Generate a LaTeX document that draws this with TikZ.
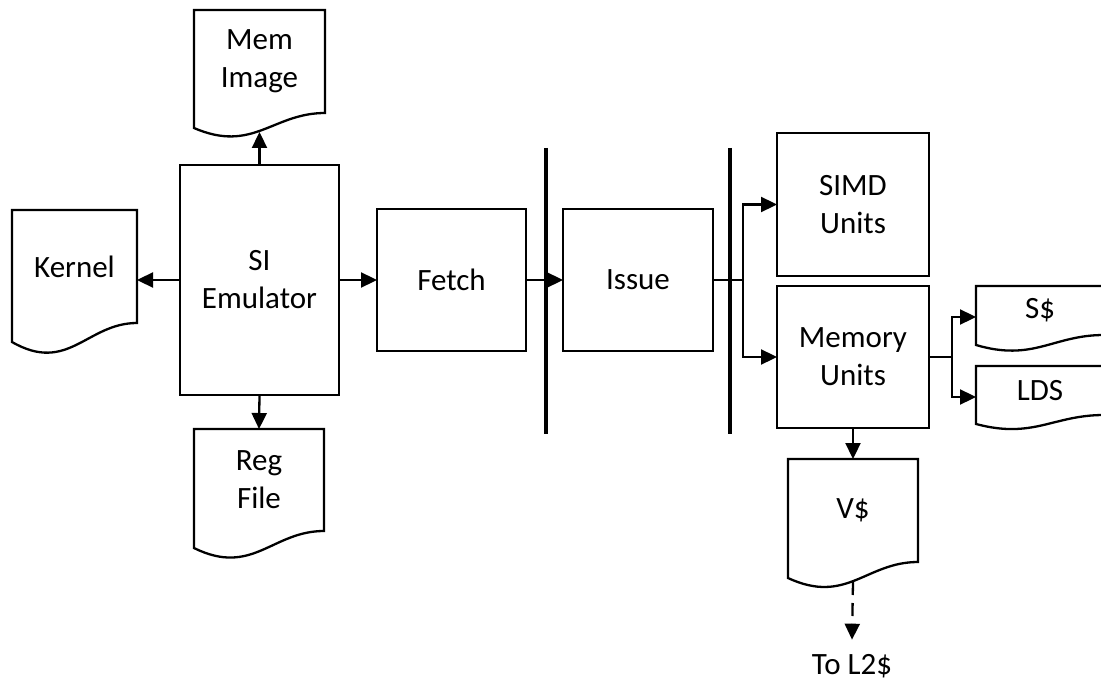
\documentclass[tikz,border=0pt]{standalone}
\usepackage{fontspec}
\setmainfont{Carlito}
\usetikzlibrary{arrows.meta,calc}
\tikzset{
  boxline/.style={line width=2.3pt, line join=miter},
  blk/.style={draw, boxline, rectangle, inner sep=0pt, outer sep=0pt, align=center,
    font=\fontsize{31pt}{38pt}\selectfont},
  docnode/.style={rectangle, inner sep=0pt, outer sep=0pt, align=center,
    font=\fontsize{31pt}{38pt}\selectfont},
  tip/.style={-{Triangle[length=16pt,width=15pt]}},
  arr/.style={line width=2.3pt, tip},
  plain/.style={line width=2.3pt},
  bar/.style={line width=4.5pt},
  lbl/.style={inner sep=0pt, font=\fontsize{31pt}{38pt}\selectfont}
}
\newcommand\docshape[2]{%
  \draw[boxline] let \p1=(#1.north west), \p2=(#1.south east), \n1={\x2-\x1} in
    (\x1,\y2-#2) -- (\x1,\y1) -- (\x2,\y1) -- (\x2,\y2)
    .. controls (\x1+0.6*\n1,\y2) and (\x1+0.45*\n1,\y2-2.7*#2) .. (\x1,\y2-#2) -- cycle;}
\begin{document}
\begin{tikzpicture}[x=1pt,y=-1pt]
\useasboundingbox (0,0) rectangle (1101,682);
\clip (0,0) rectangle (1101,682);
% blocks
\node[blk, minimum width=159pt, minimum height=230pt] (emu) at (259.5,280) {SI\\Emulator};
\node[blk, minimum width=149pt, minimum height=142pt] (fetch) at (451.5,280) {Fetch};
\node[blk, minimum width=150pt, minimum height=142pt] (issue) at (638,280) {Issue};
\node[blk, minimum width=152pt, minimum height=143pt] (simd) at (853,204.5) {SIMD\\Units};
\node[blk, minimum width=152pt, minimum height=142pt] (memu) at (853,357) {Memory\\Units};
% documents
\node[docnode, minimum width=131pt, minimum height=103pt] (mem) at (259.5,61.5) {Mem\\Image};
\docshape{mem}{15pt}
\node[docnode, minimum width=125pt, minimum height=113pt] (kernel) at (74.5,266.5) {Kernel};
\docshape{kernel}{19pt}
\node[docnode, minimum width=130pt, minimum height=102pt] (reg) at (259,480) {Reg\\File};
\docshape{reg}{17pt}
\node[docnode, minimum width=128pt, minimum height=49pt] (ss) at (1040,310.5) {S\$};
\docshape{ss}{10pt}
\node[docnode, minimum width=128pt, minimum height=49pt] (lds) at (1040,390.5) {LDS};
\docshape{lds}{9pt}
\node[docnode, minimum width=130pt, minimum height=103pt] (vs) at (853,510.5) {V\$};
\docshape{vs}{16pt}
\node[lbl, anchor=base] (tol2) at (852,674) {To L2\$};
% pipeline bars
\coordinate (b1t) at (546,148);
\coordinate (b1b) at (546,434);
\coordinate (b2t) at (730,148);
\coordinate (b2b) at (730,434);
\draw[bar] (b1t) -- (b1b);
\draw[bar] (b2t) -- (b2b);
% connectors
\draw[arr] (emu.north) -- (emu.north |- 0,132);
\draw[arr] (emu.west) -- (emu.west -| kernel.east);
\draw[arr] (emu.south) -- (reg.north);
\draw[arr] (emu.east) -- (fetch.west);
\draw[arr] (fetch.east) -- (issue.west);
\draw[plain] (issue.east) -- ++(30,0) coordinate (j1);
\draw[arr] (j1) |- (simd.west);
\draw[arr] (j1) |- (memu.west);
\draw[plain] (memu.east) -- ++(23,0) coordinate (j2);
\draw[arr] (j2) |- ([yshift=-6.5pt]ss.west);
\draw[arr] (j2) |- ([yshift=-6.5pt]lds.west);
\draw[arr] (memu.south) -- (vs.north);
\draw[line width=2.3pt, dash pattern=on 13pt off 8pt, tip]
  (vs.south |- 0,582) -- ([yshift=14pt]tol2.north);
\end{tikzpicture}
\end{document}
